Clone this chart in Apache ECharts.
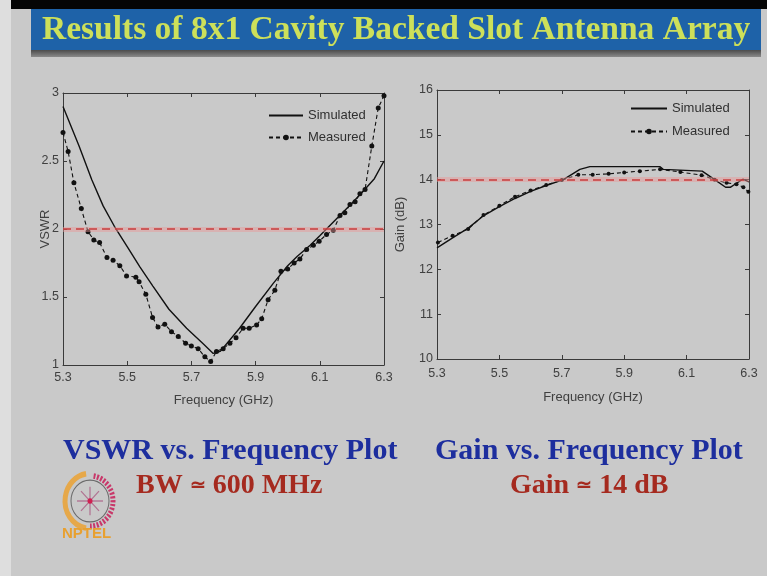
<!DOCTYPE html>
<html><head><meta charset="utf-8">
<script src="https://cdn.jsdelivr.net/npm/echarts@6/dist/echarts.min.js"></script>
<style>html,body{margin:0;padding:0;background:#c9c9c9}#c{width:767px;height:576px}</style>
</head><body><div id="c"></div>
<script>
// ---- tick labels ----
const freqTicks = [5.3, 5.5, 5.7, 5.9, 6.1, 6.3];
const vswrTicks = [1, 1.5, 2, 2.5, 3];
const gainTicks = [10, 11, 12, 13, 14, 15, 16];
const seriesNames = ['Simulated', 'Measured'];

// ---- VSWR: simulated ----
const simVswrFreq = [5.30, 5.35, 5.39, 5.425, 5.46, 5.50, 5.54, 5.58, 5.63, 5.685, 5.735, 5.768, 5.79, 5.85, 5.90, 5.955, 6.00, 6.03, 6.07, 6.10, 6.15, 6.20, 6.24, 6.27, 6.30];
const simVswr     = [2.90, 2.61, 2.36, 2.17, 2.02, 1.87, 1.72, 1.58, 1.41, 1.27, 1.16, 1.085, 1.10, 1.27, 1.43, 1.60, 1.73, 1.80, 1.88, 1.95, 2.07, 2.19, 2.29, 2.37, 2.50];

// ---- VSWR: measured ----
const measVswrFreq = [5.30, 5.316, 5.334, 5.357, 5.378, 5.396, 5.414, 5.437, 5.456, 5.477, 5.498, 5.527, 5.537, 5.558, 5.579, 5.596, 5.617, 5.638, 5.659, 5.682, 5.70, 5.721, 5.742, 5.76, 5.778, 5.799, 5.82, 5.839, 5.861, 5.88, 5.903, 5.919, 5.939, 5.96, 5.979, 6.00, 6.02, 6.038, 6.059, 6.08, 6.098, 6.121, 6.142, 6.163, 6.178, 6.194, 6.21, 6.225, 6.241, 6.262, 6.282, 6.30];
const measVswr     = [2.71, 2.57, 2.34, 2.15, 1.98, 1.92, 1.90, 1.79, 1.77, 1.73, 1.655, 1.646, 1.613, 1.52, 1.35, 1.28, 1.30, 1.245, 1.21, 1.16, 1.14, 1.12, 1.06, 1.025, 1.10, 1.12, 1.16, 1.20, 1.27, 1.27, 1.295, 1.34, 1.48, 1.55, 1.69, 1.705, 1.75, 1.78, 1.85, 1.88, 1.91, 1.96, 1.99, 2.10, 2.12, 2.18, 2.20, 2.26, 2.29, 2.61, 2.89, 2.98];

// ---- Gain: simulated ----
const simGainFreq = [5.30, 5.35, 5.40, 5.45, 5.50, 5.55, 5.60, 5.65, 5.705, 5.758, 5.79, 6.015, 6.025, 6.15, 6.19, 6.225, 6.24, 6.26, 6.28, 6.30];
const simGain     = [12.48, 12.70, 12.92, 13.20, 13.40, 13.58, 13.74, 13.87, 14.0, 14.23, 14.29, 14.29, 14.23, 14.19, 14.0, 13.83, 13.83, 13.92, 14.01, 13.95];

// ---- Gain: measured ----
const measGainFreq = [5.303, 5.35, 5.40, 5.449, 5.50, 5.55, 5.60, 5.65, 5.70, 5.753, 5.799, 5.85, 5.90, 5.95, 6.015, 6.08, 6.148, 6.19, 6.228, 6.26, 6.282, 6.298];
const measGain     = [12.60, 12.75, 12.90, 13.21, 13.42, 13.62, 13.76, 13.88, 13.99, 14.11, 14.11, 14.13, 14.16, 14.19, 14.23, 14.17, 14.10, 14.00, 13.93, 13.90, 13.83, 13.73];

const vswrLimit = 2;
const gainLimit = 14;

const zip = (xs, ys) => xs.map((x, i) => [x, ys[i]]);

const FONT = 'Liberation Sans, Arial, sans-serif';
const SERIF = '"Liberation Serif", "Times New Roman", serif';
const axisCol = '#3a3a3a';
const labCol = '#404040';

function bottomAxis(grid, name, nameGap, margin) {
  return {
    type: 'value', gridIndex: grid, position: 'bottom', min: 5.3, max: 6.3,
    name: name, nameLocation: 'middle', nameGap: nameGap, nameMoveOverlap: false,
    nameTextStyle: { fontFamily: FONT, fontSize: 13, color: labCol },
    axisLine: { show: true, lineStyle: { color: axisCol, width: 1 } },
    axisTick: { show: true, inside: true, length: 4, lineStyle: { color: axisCol }, customValues: freqTicks },
    axisLabel: { show: true, fontFamily: FONT, fontSize: 12.5, color: labCol, margin: margin, customValues: freqTicks },
    splitLine: { show: false }
  };
}
function topAxis(grid) {
  return {
    type: 'value', gridIndex: grid, position: 'top', min: 5.3, max: 6.3,
    axisLine: { show: true, lineStyle: { color: axisCol, width: 1 } },
    axisTick: { show: true, inside: true, length: 4, lineStyle: { color: axisCol }, customValues: freqTicks },
    axisLabel: { show: false }, splitLine: { show: false }
  };
}
function leftAxis(grid, min, max, interval, name, nameGap) {
  return {
    type: 'value', gridIndex: grid, position: 'left', min: min, max: max, interval: interval,
    name: name, nameLocation: 'middle', nameGap: nameGap, nameRotate: 90, nameMoveOverlap: false,
    nameTextStyle: { fontFamily: FONT, fontSize: 13, color: labCol },
    axisLine: { show: true, lineStyle: { color: axisCol, width: 1 } },
    axisTick: { show: true, inside: true, length: 4, lineStyle: { color: axisCol } },
    axisLabel: { show: true, fontFamily: FONT, fontSize: 12.5, color: labCol, margin: 4 },
    splitLine: { show: false }
  };
}
function rightAxis(grid, min, max, interval) {
  return {
    type: 'value', gridIndex: grid, position: 'right', min: min, max: max, interval: interval,
    axisLine: { show: true, lineStyle: { color: axisCol, width: 1 } },
    axisTick: { show: true, inside: true, length: 4, lineStyle: { color: axisCol } },
    axisLabel: { show: false }, splitLine: { show: false }
  };
}

function limitLine(v) {
  return {
    silent: true, symbol: ['none', 'none'], label: { show: false },
    animation: false,
    data: [
      { yAxis: v, lineStyle: { color: 'rgba(235,150,150,0.45)', width: 5, type: 'solid' } },
      { yAxis: v, lineStyle: { color: '#c83c3c', width: 1.6, type: [8, 5] } }
    ]
  };
}

const simStyle = { color: '#111', width: 1.4, type: 'solid' };
const measStyle = { color: '#111', width: 1.1, type: [4, 3] };

function legendCfg(left, top, w, gap) {
  return {
    data: [{ name: seriesNames[0], itemStyle: { opacity: 0 } }, { name: seriesNames[1] }],
    orient: 'vertical', left: left, top: top, padding: 0, itemWidth: w, itemHeight: 7, itemGap: gap,
    textStyle: { fontFamily: FONT, fontSize: 13, color: '#303030' }, selectedMode: false
  };
}

const chart = echarts.init(document.getElementById('c'), null, { renderer: 'canvas' });
chart.setOption({
  animation: false,
  backgroundColor: '#c9c9c9',
  grid: [
    { left: 63, right: 383, top: 93, bottom: 211, show: false },
    { left: 437, right: 18, top: 90, bottom: 217, show: false }
  ],
  xAxis: [
    bottomAxis(0, 'Frequency (GHz)', 29, 6),
    topAxis(0),
    bottomAxis(1, 'Frequency (GHz)', 32, 8),
    topAxis(1)
  ],
  yAxis: [
    leftAxis(0, vswrTicks[0], vswrTicks[vswrTicks.length - 1], 0.5, 'VSWR', 11),
    rightAxis(0, vswrTicks[0], vswrTicks[vswrTicks.length - 1], 0.5),
    leftAxis(1, gainTicks[0], gainTicks[gainTicks.length - 1], 1, 'Gain (dB)', 30),
    rightAxis(1, gainTicks[0], gainTicks[gainTicks.length - 1], 1)
  ],
  legend: [ legendCfg(268, 109, 34, 9), legendCfg(630, 102, 36, 10) ],
  series: [
    { name: seriesNames[0], type: 'line', xAxisIndex: 0, yAxisIndex: 0, data: zip(simVswrFreq, simVswr),
      symbol: 'none', lineStyle: simStyle, itemStyle: { color: '#111' }, z: 3, markLine: limitLine(vswrLimit) },
    { name: seriesNames[1], type: 'line', xAxisIndex: 0, yAxisIndex: 0, data: zip(measVswrFreq, measVswr),
      symbol: 'circle', symbolSize: 5, lineStyle: measStyle, itemStyle: { color: '#111' }, z: 4 },
    { name: seriesNames[0], type: 'line', xAxisIndex: 2, yAxisIndex: 2, data: zip(simGainFreq, simGain),
      symbol: 'none', lineStyle: simStyle, itemStyle: { color: '#111' }, z: 3, markLine: limitLine(gainLimit) },
    { name: seriesNames[1], type: 'line', xAxisIndex: 2, yAxisIndex: 2, data: zip(measGainFreq, measGain),
      symbol: 'circle', symbolSize: 4, lineStyle: measStyle, itemStyle: { color: '#111' }, z: 4 }
  ],
  graphic: [
    { type: 'rect', shape: { x: 0, y: 0, width: 11, height: 576 }, style: { fill: '#dedede' }, silent: true, z: -10 },
    { type: 'rect', shape: { x: 11, y: 0, width: 756, height: 9 }, style: { fill: '#050505' }, silent: true },
    { type: 'rect', shape: { x: 31, y: 48, width: 730, height: 9 },
      style: { fill: new echarts.graphic.LinearGradient(0, 0, 0, 1, [{ offset: 0, color: '#3a3a3a' }, { offset: 1, color: '#8a8a8a' }]) }, silent: true },
    { type: 'rect', shape: { x: 31, y: 9, width: 730, height: 41 }, style: { fill: '#1e62a8' }, silent: true },
    { type: 'text', left: 42, top: 13, silent: true,
      style: { text: 'Results of 8x1 Cavity Backed Slot Antenna Array', font: 'bold 33.5px ' + SERIF, fill: '#cde05a' } },
    { type: 'text', left: 63, top: 436, silent: true,
      style: { text: 'VSWR vs. Frequency Plot', font: 'bold 30px ' + SERIF, fill: '#1d2e9e' } },
    { type: 'text', left: 435, top: 436, silent: true,
      style: { text: 'Gain vs. Frequency Plot', font: 'bold 30px ' + SERIF, fill: '#1d2e9e' } },
    { type: 'text', left: 136, top: 472, silent: true,
      style: { text: '{a|BW }{b|\u2243}{a| 600 MHz}', fill: '#a52a1f',
        rich: { a: { font: 'bold 28px ' + SERIF, fill: '#a52a1f' }, b: { font: 'bold 19px ' + SERIF, fill: '#a52a1f' } } } },
    { type: 'text', left: 510, top: 472, silent: true,
      style: { text: '{a|Gain }{b|\u2243}{a| 14 dB}', fill: '#a52a1f',
        rich: { a: { font: 'bold 28px ' + SERIF, fill: '#a52a1f' }, b: { font: 'bold 19px ' + SERIF, fill: '#a52a1f' } } } },
    { type: 'group', silent: true, scaleY: 1.1, originX: 90, originY: 501, children: [
      { type: 'arc', shape: { cx: 90, cy: 501, r: 25, startAngle: Math.PI * 0.55, endAngle: Math.PI * 1.45, clockwise: true },
        style: { stroke: '#e6a84a', lineWidth: 5, fill: null } },
      { type: 'arc', shape: { cx: 90, cy: 501, r: 23, startAngle: -Math.PI * 0.45, endAngle: Math.PI * 0.5 },
        style: { stroke: '#c8386a', lineWidth: 5, lineDash: [2, 1.5], fill: null } },
      { type: 'circle', shape: { cx: 90, cy: 501, r: 19 }, style: { stroke: '#6a6a6a', lineWidth: 1, fill: null } },
      { type: 'line', shape: { x1: 77, y1: 501, x2: 103, y2: 501 }, style: { stroke: '#b07090', lineWidth: 1.2 } },
      { type: 'line', shape: { x1: 90, y1: 488, x2: 90, y2: 514 }, style: { stroke: '#b07090', lineWidth: 1.2 } },
      { type: 'line', shape: { x1: 81, y1: 492, x2: 99, y2: 510 }, style: { stroke: '#b07090', lineWidth: 1.2 } },
      { type: 'line', shape: { x1: 99, y1: 492, x2: 81, y2: 510 }, style: { stroke: '#b07090', lineWidth: 1.2 } },
      { type: 'circle', shape: { cx: 90, cy: 501, r: 2.5 }, style: { fill: '#d02050' } }
    ] },
    { type: 'text', left: 62, top: 526, silent: true,
      style: { text: 'NPTEL', font: 'bold 15px ' + FONT, fill: '#e8a030' } }
  ]
});
</script>
</body></html>
